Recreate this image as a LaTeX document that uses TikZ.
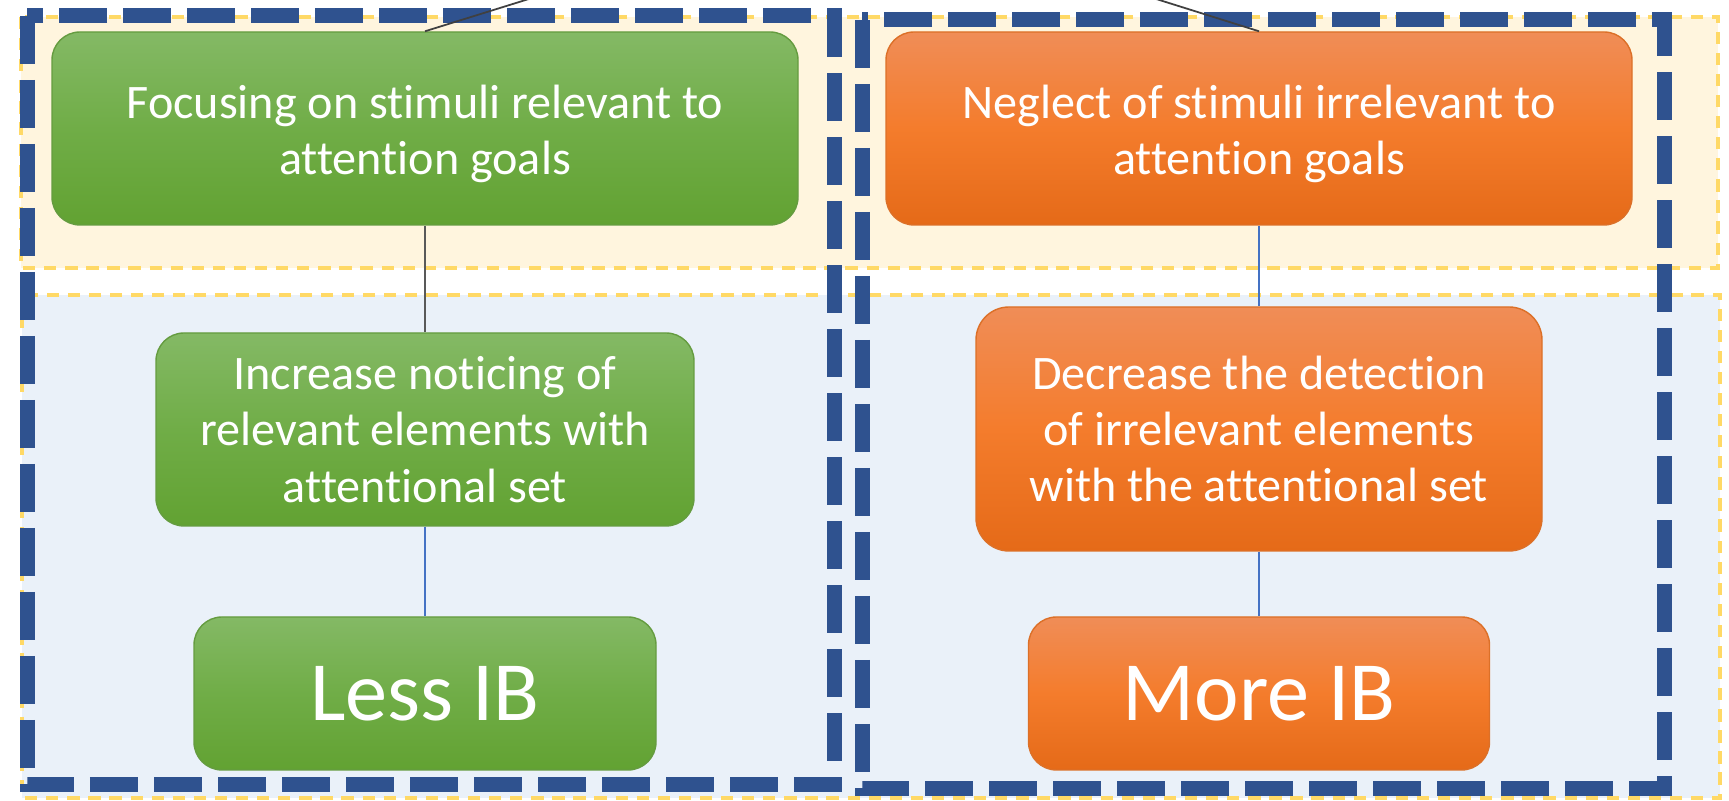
\documentclass[tikz,border=0pt]{standalone}
\usepackage{fontspec}
\setmainfont{Carlito}[Ligatures=NoCommon]

\definecolor{grntop}{HTML}{84B965}
\definecolor{grnmid}{HTML}{70AD47}
\definecolor{grnbot}{HTML}{62A232}
\definecolor{orgtop}{HTML}{F08D57}
\definecolor{orgmid}{HTML}{F47C2C}
\definecolor{orgbot}{HTML}{E56A18}
\definecolor{bandyel}{HTML}{FFF5DE}
\definecolor{bandblu}{HTML}{EAF1F9}
\definecolor{bandedge}{HTML}{FFD966}
\definecolor{frameblu}{HTML}{2F528F}
\definecolor{linkblu}{HTML}{4472C4}

\tikzset{
  greenbox/.style={rounded corners=2.8mm, draw=grnmid!90!black, line width=0.4pt,
    top color=grntop, bottom color=grnbot, middle color=grnmid,
    text=white, align=center, inner sep=0pt},
  orangebox/.style={rounded corners=2.8mm, draw=orgmid!90!black, line width=0.4pt,
    top color=orgtop, bottom color=orgbot, middle color=orgmid,
    text=white, align=center, inner sep=0pt},
  band/.style={draw=bandedge, line width=0.9pt, dash pattern=on 3.5pt off 2.5pt},
  frame/.style={draw=frameblu, line width=0.15cm, dash pattern=on 0.48cm off 0.16cm},
  link/.style={draw=linkblu, line width=0.5pt},
  small/.style={font=\fontsize{13.7}{16}\selectfont},
  big/.style={font=\fontsize{24}{28}\selectfont}
}

\begin{document}
\begin{tikzpicture}
\clip (0,0) rectangle (17.29,-8.01);

% background bands
\draw[band, fill=bandyel] (0.21,-0.17) rectangle (17.18,-2.68);
\draw[band, fill=bandblu] (0.22,-2.95) rectangle (17.20,-7.98);

% dashed frames
\draw[frame] (0.27,-0.16) rectangle (8.34,-7.85);
\draw[frame] (8.62,-0.20) rectangle (16.64,-7.89);

% boxes
\node[greenbox, small, minimum width=7.46cm, minimum height=1.93cm] (gtop) at (4.25,-1.285) {\rule{0pt}{0.45cm}Focusing on stimuli relevant to\\ attention goals};
\node[orangebox, small, minimum width=7.46cm, minimum height=1.93cm] (otop) at (12.59,-1.285) {\rule{0pt}{0.45cm}Neglect of stimuli irrelevant to\\ attention goals};
\node[greenbox, small, minimum width=5.38cm, minimum height=1.93cm] (gmid) at (4.25,-4.295) {Increase noticing of\\ relevant elements with\\ attentional set};
\node[orangebox, small, minimum width=5.66cm, minimum height=2.44cm, rounded corners=3.3mm] (omid) at (12.59,-4.29) {Decrease the detection\\ of irrelevant elements\\ with the attentional set};
\node[greenbox, big, minimum width=4.62cm, minimum height=1.53cm] (gbot) at (4.25,-6.935) {Less IB};
\node[orangebox, big, minimum width=4.61cm, minimum height=1.53cm] (obot) at (12.59,-6.935) {More IB};

% connectors
\coordinate (root) at (8.44,0.99);
\draw[black!75, line width=0.5pt] (gtop.north) -- (root);
\draw[black!75, line width=0.5pt] (otop.north) -- (root);
\draw[black!65, line width=0.5pt] (gtop) -- (gmid);
\draw[link] (gmid) -- (gbot);
\draw[link] (otop) -- (omid);
\draw[link] (omid) -- (obot);
\end{tikzpicture}
\end{document}
